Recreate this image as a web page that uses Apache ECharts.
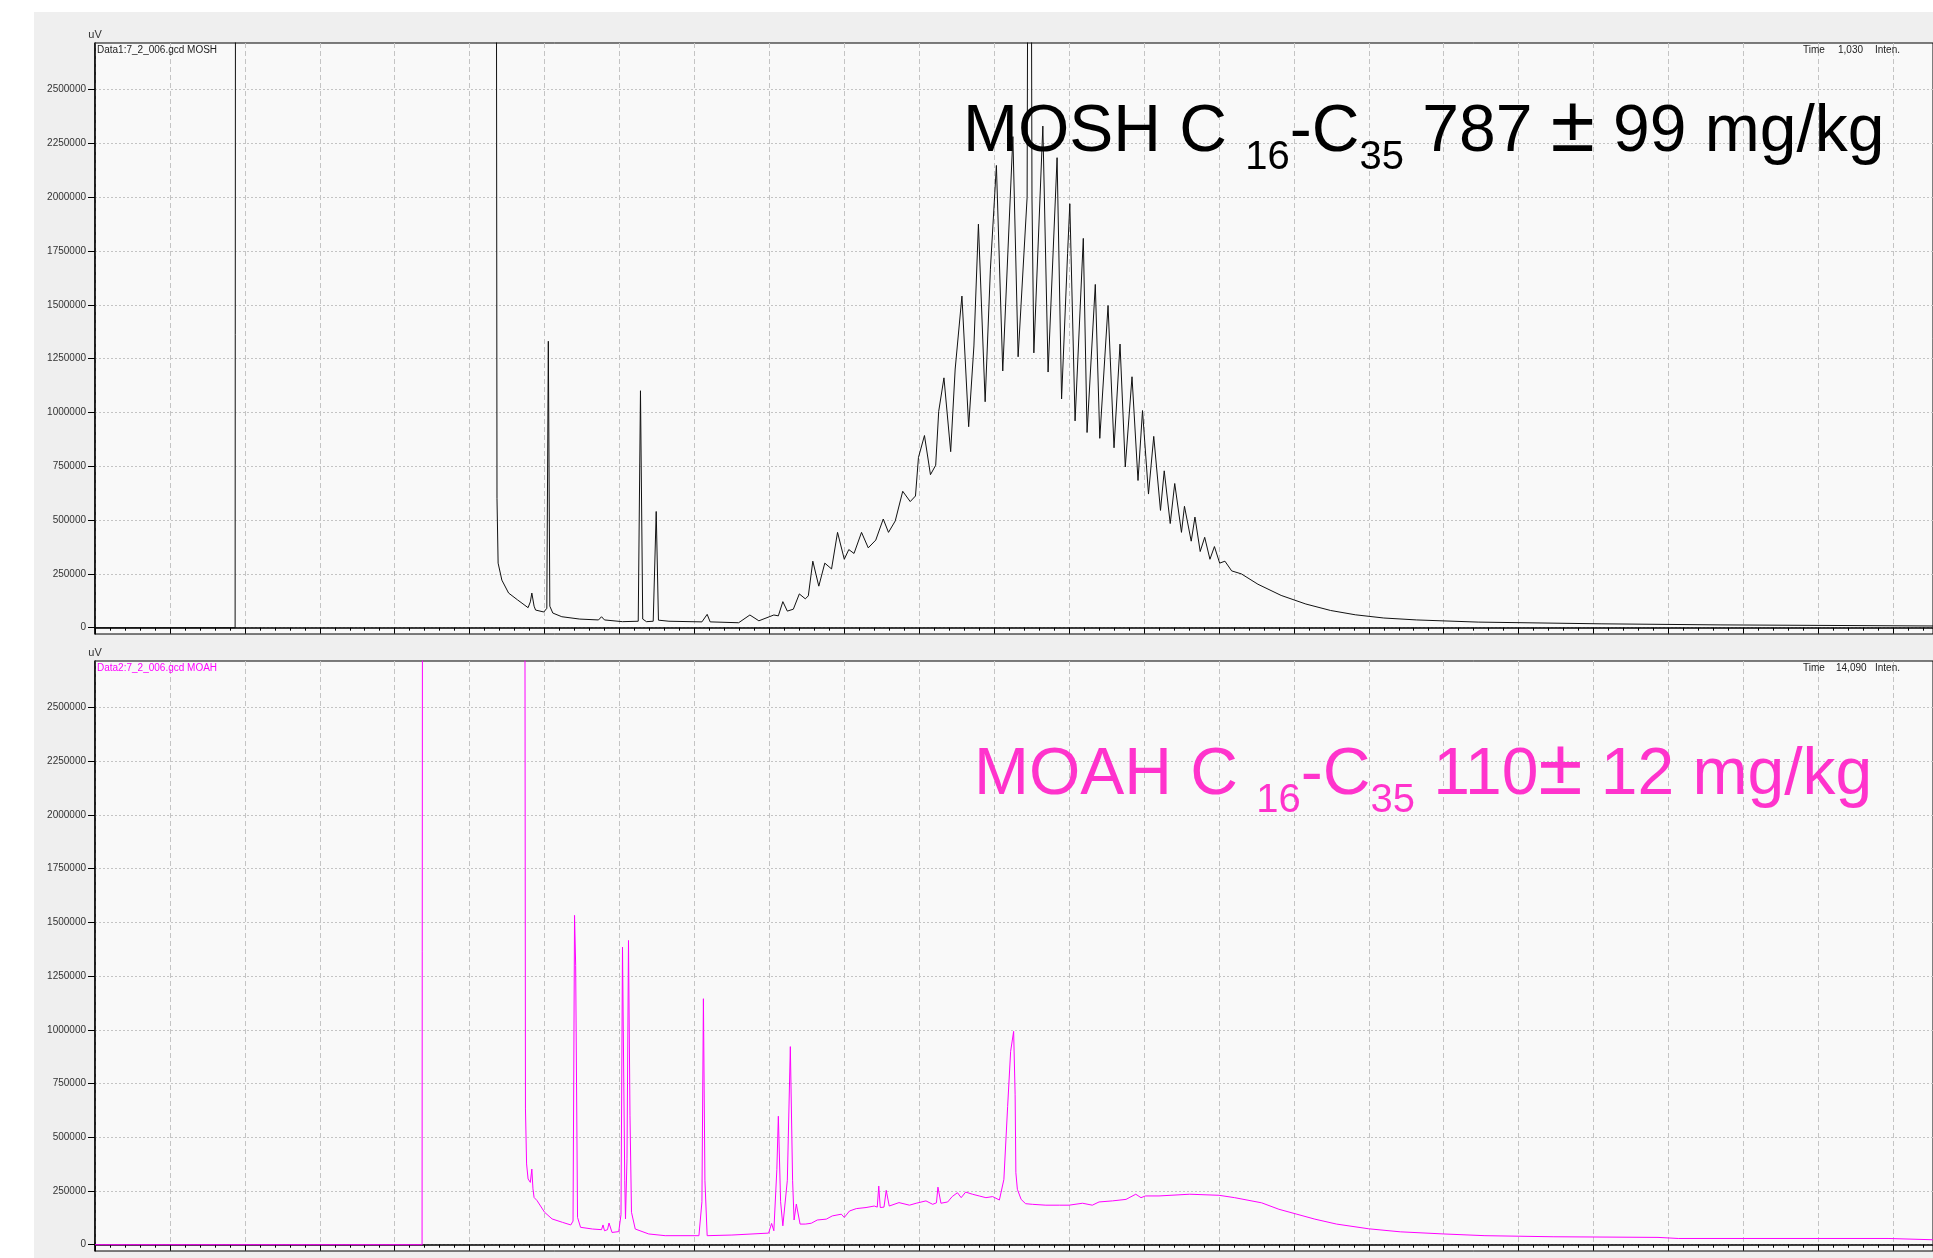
<!DOCTYPE html>
<html>
<head>
<meta charset="utf-8">
<title>MOSH / MOAH</title>
<script src="https://cdn.jsdelivr.net/npm/echarts@6/dist/echarts.min.js"></script>
<style>
  html, body { margin: 0; padding: 0; background: #fff; }
  #chart { width: 1933px; height: 1258px; }
</style>
</head>
<body>
<div id="chart"></div>
<script>
// time axis in grid units (one major division = 1)
var moshTime = [0, 1.870, 1.876, 5.355, 5.365, 5.38, 5.43, 5.52, 5.64, 5.78, 5.81, 5.83, 5.86, 5.88, 5.99, 6.03, 6.05, 6.07, 6.11, 6.23, 6.47, 6.72, 6.76, 6.80, 7.04, 7.25, 7.28, 7.31, 7.36, 7.45, 7.49, 7.52, 7.66, 8.10, 8.17, 8.21, 8.59,
  8.74, 8.86, 9.06, 9.12, 9.18, 9.24, 9.32, 9.40, 9.48, 9.52, 9.58, 9.66, 9.74, 9.83, 9.91, 10.0, 10.06, 10.13, 10.23, 10.32, 10.42, 10.52, 10.59, 10.68, 10.78, 10.88, 10.95, 10.99, 11.07, 11.15, 11.22, 11.26, 11.33, 11.42, 11.48, 11.57, 11.66, 11.73, 11.79, 11.88, 11.95, 12.03,
  12.115, 12.25, 12.32, 12.44, 12.455, 12.49, 12.505, 12.53, 12.65, 12.72, 12.84, 12.90, 12.98, 13.01, 13.08, 13.19, 13.24, 13.35, 13.41, 13.52, 13.60, 13.68, 13.75, 13.84, 13.92, 13.98, 14.06, 14.13, 14.22, 14.27, 14.35, 14.41, 14.50, 14.54, 14.63, 14.68, 14.75, 14.81, 14.88, 14.94, 15.01, 15.08, 15.17, 15.30, 15.52,
  15.83, 16.16, 16.49, 16.82, 17.2, 17.64, 18.46, 20.1, 21.7, 24.53];
var moshSignal = [0, 0, 4000000, 4000000, 600000, 300000, 221000, 161000, 129000, 93000, 120000, 161000, 100000, 82000, 73000, 90000, 1331000, 100000, 68000, 51000, 40000, 36000, 51000, 36000, 28000, 30000, 1101000, 40000, 28000, 30000, 540000, 35000, 30000, 27000, 62000, 27000, 23000,
  59000, 32000, 59000, 55000, 121000, 77000, 86000, 157000, 134000, 148000, 309000, 193000, 300000, 273000, 443000, 318000, 363000, 345000, 443000, 371000, 407000, 505000, 443000, 496000, 634000, 586000, 612000, 791000, 893000, 711000, 755000, 1005000, 1161000, 818000, 1202000, 1541000, 934000, 1309000, 1875000, 1050000, 1666000, 2148000,
  1193000, 2282000, 1259000, 2000000, 4000000, 4000000, 2000000, 1277000, 2331000, 1188000, 2184000, 1063000, 1738000, 1970000, 961000, 1809000, 907000, 1595000, 880000, 1497000, 836000, 1318000, 747000, 1166000, 684000, 1009000, 621000, 889000, 545000, 729000, 484000, 670000, 443000, 564000, 402000, 514000, 354000, 420000, 318000, 377000, 300000, 309000, 264000, 250000, 202000,
  150000, 110000, 80000, 60000, 45000, 36000, 26000, 18000, 13000, 8000];

var moahTime = [0, 4.365, 4.372, 5.735, 5.745, 5.76, 5.78, 5.81, 5.83, 5.845, 5.86, 5.90, 6.00, 6.10, 6.24, 6.35, 6.38, 6.40, 6.415, 6.44, 6.48, 6.64, 6.76, 6.78, 6.80, 6.84, 6.86, 6.90, 6.99,
  7.02, 7.04, 7.07, 7.08, 7.10, 7.12, 7.14, 7.16, 7.21, 7.39, 7.61, 8.06, 8.10, 8.12, 8.14, 8.17, 8.50, 8.99, 9.03, 9.06, 9.10, 9.12, 9.15, 9.18, 9.24, 9.28, 9.31, 9.33, 9.36, 9.41, 9.48, 9.56, 9.64, 9.76, 9.84, 9.96, 10.0,
  10.07, 10.16, 10.29, 10.40, 10.44, 10.46, 10.48, 10.53, 10.56, 10.60, 10.73, 10.87, 10.96, 11.09, 11.18, 11.23, 11.25, 11.29, 11.38, 11.44, 11.51, 11.56, 11.62, 11.71, 11.80, 11.89, 11.98, 12.07,
  12.13, 12.18, 12.22, 12.26, 12.28, 12.29, 12.31, 12.36, 12.42, 12.51, 12.69, 12.87, 13.0, 13.18, 13.31, 13.40, 13.58, 13.76, 13.89, 13.96, 14.02, 14.2, 14.61, 15.0, 15.21, 15.57, 15.8, 16.04, 16.28, 16.57, 17.0, 17.42, 18.0, 18.55, 19.46, 20.86, 21.13, 23.93, 24.53];
var moahSignal = [0, 0, 4000000, 4000000, 632000, 376000, 306000, 290000, 352000, 260000, 220000, 205000, 151000, 120000, 104000, 92000, 110000, 1533000, 1300000, 127000, 81000, 73000, 70000, 92000, 65000, 70000, 101000, 57000, 61000,
  140000, 1385000, 300000, 120000, 400000, 1416000, 600000, 151000, 73000, 50000, 42000, 42000, 200000, 1145000, 300000, 42000, 45000, 54000, 99000, 65000, 350000, 598000, 200000, 88000, 300000, 922000, 300000, 115000, 189000, 96000, 96000, 100000, 115000, 119000, 134000, 142000, 127000,
  157000, 168000, 173000, 180000, 175000, 273000, 173000, 175000, 253000, 180000, 196000, 184000, 193000, 204000, 188000, 195000, 268000, 193000, 199000, 224000, 242000, 219000, 245000, 235000, 227000, 219000, 224000, 208000,
  304000, 643000, 900000, 993000, 700000, 335000, 258000, 211000, 191000, 188000, 184000, 184000, 184000, 193000, 184000, 199000, 204000, 211000, 235000, 219000, 227000, 227000, 235000, 230000, 219000, 195000, 165000, 142000, 119000, 96000, 74000, 60000, 50000, 42000, 37000, 34000, 29000, 29000, 23000];

var yLabelValues = [0, 250000, 500000, 750000, 1000000, 1250000, 1500000, 1750000, 2000000, 2250000, 2500000];
var yMinorValues = [];
for (var v = 0; v <= 2700000; v += 50000) yMinorValues.push(v);

var yMin = -29300, yMax = 2717000;
var xMax = 24.53;
var narrow = '"Liberation Sans Narrow", "Liberation Sans", Arial, sans-serif';
var sans = '"Liberation Sans", Arial, sans-serif';
var moahColor = '#ff00ff';
var moahTextColor = '#ff33cc';

function zip(xs, ys) {
  var out = [];
  for (var i = 0; i < xs.length; i++) out.push([xs[i], ys[i]]);
  return out;
}

function xAxisFor(gi) {
  return {
    type: 'value', gridIndex: gi, min: 0, max: xMax, interval: 1,
    axisLine: { lineStyle: { color: '#000', width: 1.5 } },
    axisTick: { show: true, inside: false, length: 6, lineStyle: { color: '#000' } },
    minorTick: { show: true, splitNumber: 5, length: 3, lineStyle: { color: '#000' } },
    axisLabel: { show: false },
    splitLine: { show: true, lineStyle: { color: '#c4c4c4', type: [5, 3], width: 1 } }
  };
}

function yAxesFor(gi) {
  return [{
    type: 'value', gridIndex: gi, min: yMin, max: yMax,
    axisLine: { show: true, lineStyle: { color: '#000', width: 1.5 } },
    axisTick: { show: true, length: 7, customValues: yLabelValues, lineStyle: { color: '#000' } },
    axisLabel: {
      show: true, customValues: yLabelValues, margin: 9, fontSize: 10, color: '#333', fontFamily: narrow,
      formatter: function (val) { return String(Math.round(val)); }
    },
    splitLine: { show: true, lineStyle: { color: '#c4c4c4', type: [2, 2], width: 1 } }
  }, {
    type: 'value', gridIndex: gi, min: yMin, max: yMax,
    axisLine: { show: false },
    axisTick: { show: true, length: 4, customValues: yMinorValues, lineStyle: { color: '#000' } },
    axisLabel: { show: false },
    splitLine: { show: false }
  }];
}

function bigRich(color) {
  return {
    a: { fontSize: 66, lineHeight: 90, fontFamily: sans, fill: color },
    pm: { fontSize: 80, lineHeight: 90, fontFamily: sans, fill: color, padding: [0, 0, 8, 0] },
    s: { fontSize: 40, lineHeight: 40, verticalAlign: 'bottom', fontFamily: sans, fill: color }
  };
}

var chart = echarts.init(document.getElementById('chart'), null, { renderer: 'canvas' });

var option = {
  animation: false,
  backgroundColor: '#ffffff',
  grid: [
    { left: 95, top: 43, right: -2, height: 591, show: true, backgroundColor: '#f9f9f9', borderColor: '#000', borderWidth: 1 },
    { left: 95, top: 661, right: -2, height: 590, show: true, backgroundColor: '#f9f9f9', borderColor: '#000', borderWidth: 1 }
  ],
  xAxis: [xAxisFor(0), xAxisFor(1)],
  yAxis: yAxesFor(0).concat(yAxesFor(1)),
  graphic: [
    { type: 'rect', z: -10, silent: true, shape: { x: 34, y: 12, width: 1933, height: 1300 }, style: { fill: '#efefef' } },
    { type: 'text', z: 10, x: 95, y: 35, style: { text: 'uV', font: '11px ' + narrow, fill: '#333', align: 'center', verticalAlign: 'middle' } },
    { type: 'text', z: 10, x: 95, y: 653, style: { text: 'uV', font: '11px ' + narrow, fill: '#333', align: 'center', verticalAlign: 'middle' } },
    { type: 'text', z: 10, x: 97, y: 50, style: { text: 'Data1:7_2_006.gcd MOSH', font: '10px ' + narrow, fill: '#222', verticalAlign: 'middle' } },
    { type: 'text', z: 10, x: 97, y: 668, style: { text: 'Data2:7_2_006.gcd MOAH', font: '10px ' + narrow, fill: moahColor, verticalAlign: 'middle' } },
    { type: 'text', z: 10, x: 1803, y: 50, style: { text: 'Time', font: '10px ' + narrow, fill: '#222', verticalAlign: 'middle' } },
    { type: 'text', z: 10, x: 1838, y: 50, style: { text: '1,030', font: '10px ' + narrow, fill: '#222', verticalAlign: 'middle' } },
    { type: 'text', z: 10, x: 1875, y: 50, style: { text: 'Inten.', font: '10px ' + narrow, fill: '#222', verticalAlign: 'middle' } },
    { type: 'text', z: 10, x: 1803, y: 668, style: { text: 'Time', font: '10px ' + narrow, fill: '#222', verticalAlign: 'middle' } },
    { type: 'text', z: 10, x: 1836, y: 668, style: { text: '14,090', font: '10px ' + narrow, fill: '#222', verticalAlign: 'middle' } },
    { type: 'text', z: 10, x: 1875, y: 668, style: { text: 'Inten.', font: '10px ' + narrow, fill: '#222', verticalAlign: 'middle' } },
    {
      type: 'text', z: 20, x: 963, y: 88,
      style: {
        text: '{a|MOSH C }{s|16}{a|-C}{s|35}{a| 787 }{pm|±}{a| 99 mg/kg}',
        verticalAlign: 'top', align: 'left',
        rich: bigRich('#000')
      }
    },
    {
      type: 'text', z: 20, x: 974, y: 731,
      style: {
        text: '{a|MOAH C }{s|16}{a|-C}{s|35}{a| 110}{pm|±}{a| 12 mg/kg}',
        verticalAlign: 'top', align: 'left',
        rich: bigRich(moahTextColor)
      }
    }
  ],
  series: [
    {
      name: 'MOSH', type: 'line', xAxisIndex: 0, yAxisIndex: 0,
      data: zip(moshTime, moshSignal),
      showSymbol: false, symbol: 'none', clip: true,
      lineStyle: { color: '#111', width: 1 }
    },
    {
      name: 'MOAH', type: 'line', xAxisIndex: 1, yAxisIndex: 2,
      data: zip(moahTime, moahSignal),
      showSymbol: false, symbol: 'none', clip: true,
      lineStyle: { color: moahColor, width: 1 }
    }
  ]
};

chart.setOption(option);
</script>
</body>
</html>
